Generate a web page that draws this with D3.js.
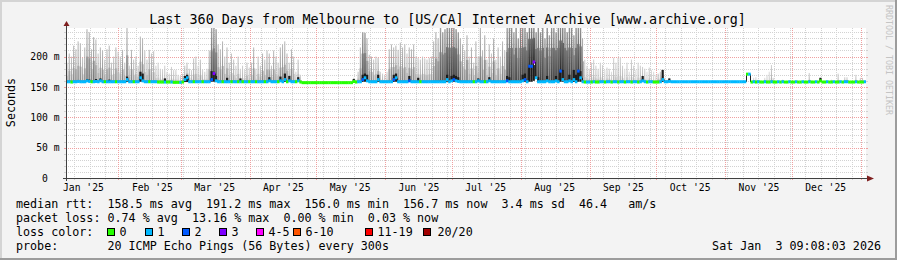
<!DOCTYPE html>
<html>
<head>
<meta charset="utf-8">
<script src="https://d3js.org/d3.v7.min.js"></script>
<style>
  html, body { margin: 0; padding: 0; background: #f3f3f3; }
  svg { display: block; }
  text { font-family: "DejaVu Sans Mono", monospace; white-space: pre; }
</style>
</head>
<body>
<script>
// time window: last 360 days ending Sat Jan 3 09:08 2026
var startTime = Date.UTC(2025, 0, 8, 9, 8);
var endTime = Date.UTC(2026, 0, 3, 9, 8);
var DAY = 86400000;

// daily median rtt (ms)
var medianMs = [
  158.5,158.5,158,158.5,158.5,159,158.5,158.5,158.5,160,159,158.5,158.5,159,158.5,160,158.5,158.5,158.5,158.5,158.5,158.5,158.5,158.5,
  158.5,158.5,158.5,162,158.5,158.5,158.5,158.5,158.5,165,160,158.5,158.5,158.5,158.5,158.5,158.5,158,158,158,158,158,158,158,157.5,157.5,157.5,157.5,
  158,162,165,158.5,158.5,158.5,158.5,158.5,158.5,158.5,158.5,158.5,158.5,162,172,160,158.5,158.5,158.5,158.5,158.5,158.5,158.5,158.5,158.5,158.5,158.5,158.5,158.5,158.5,158.5,
  158.5,158.5,158.5,158.5,158.5,158.5,158.5,158.5,160,158.5,158.5,158.5,158.5,160,158.5,162,158.5,160,158.5,158.5,158.5,160,158,157,157,157,157,157,157,157,
  157,157,157,157,157,157,157,157,157,157,157,157,157,157,157,157,159,158,158.5,158.5,162,165,160,158.5,158.5,158.5,158.5,162,158.5,158.5,158.5,
  158.5,158.5,158.5,162,165,158.5,158.5,158.5,158.5,158.5,160,158.5,158.5,158.5,158.5,158.5,158.5,158.5,158.5,158.5,158.5,158.5,158.5,158.5,158.5,158.5,158.5,162,158.5,160,
  162,160,159,158.5,158.5,158.5,158.5,158.5,158.5,158.5,158.5,160,158.5,158.5,158.5,158.5,160,158.5,158.5,158.5,158.5,158.5,158.5,158.5,160,158.5,158.5,158.5,158.5,158.5,158.5,
  160,162,158.5,184,184,191,165,158.5,158.5,158.5,158.5,160,158.5,158.5,158.5,160,158.5,176,162,158.5,158.5,160,158.5,162,158.5,176,165,158.5,158,158,158,
  158,158.5,158,158,158.5,158.5,158,158.5,158.5,158,158.5,158.5,158,158.5,158.5,158,158.5,158.5,158,158.5,158.5,158,158.5,160,158.5,158,158.5,158.5,158,158,
  158,158.5,162,158.5,158.5,159,158.5,158.5,158.5,158.5,158.5,158.5,158.5,158.5,158.5,158.5,158.5,158.5,158.5,158.5,158.5,158.5,158.5,158.5,158.5,158.5,158.5,158.5,158.5,158.5,158.5,
  158.5,158.5,158.5,158.5,158.5,158.5,158.5,158.5,158.5,171,171,158,158.5,158,158.5,158,158,158.5,158,158,158.5,158,158,158.5,158,158.5,158,158,158.5,158,
  158,158.5,158,158,158.5,158,158,158.5,158,158,158.5,158,160,158,158,158.5,158,158,158.5,158,158,158.5,158,158.5,158.5,158,158,158,158.5,158,158,
  158,158.5
];

// daily top of the smoke (highest ping, ms)
var peakMs = [
  190,205,200,218,212,225,222,198,215,245,240,212,232,228,205,215,210,195,212,218,190,200,215,208,
  200,211,190,247,185,211,195,200,185,233,230,210,195,211,205,209,185,190,180,178,185,175,172,183,178,178,170,168,
  172,185,190,180,178,197,200,185,195,178,175,180,210,247,247,245,220,212,225,200,215,190,205,195,185,200,180,185,178,190,182,
  190,215,180,200,185,205,195,210,205,185,210,200,190,215,220,225,205,190,212,200,175,195,170,157,157,157,157,157,157,157,
  157,157,157,157,157,157,157,157,157,157,157,157,157,157,157,157,165,162,175,215,240,239,230,203,200,195,200,198,175,172,170,
  175,212,220,215,218,211,223,215,220,205,215,212,220,200,198,195,200,197,195,198,200,225,240,230,247,240,245,247,247,247,
  247,245,240,230,220,210,235,200,215,190,225,200,247,210,235,195,220,205,230,195,215,200,225,210,247,247,247,240,247,230,247,
  247,247,240,247,247,247,240,247,240,247,230,247,235,247,247,240,247,247,247,247,240,247,247,235,247,247,247,230,195,185,180,
  190,195,185,180,190,186,178,182,180,175,198,190,198,199,185,180,190,175,195,185,178,190,185,183,180,175,182,178,175,170,
  172,175,178,165,162,165,158,158,158,158,158,158,158,158,158,158,158,158,158,158,158,158,158,158,158,158,158,158,158,158,158,
  158,158,158,158,158,158,158,158,158,172,172,160,165,166,162,160,158,165,170,175,186,165,160,158,158,162,158,158,160,158,
  158,160,158,158,158,158,158,173,160,158,158,158,165,158,160,158,158,162,158,158,172,160,158,166,166,158,158,158,170,158,165,
  165,160
];

// daily smoke darkness (0 none .. 9 black)
var smokeShade = [
  4,5,4,5,5,5,5,4,5,6,6,5,6,5,4,5,5,4,5,5,4,4,5,4,
  4,5,4,6,4,5,4,4,4,5,5,4,4,5,4,4,3,3,3,3,3,3,3,3,3,3,3,3,
  3,4,4,4,3,4,4,3,4,3,3,3,5,7,7,7,5,5,5,4,5,4,4,4,3,4,3,3,3,4,3,
  4,5,3,4,4,5,4,5,5,4,5,4,4,5,5,5,5,4,5,4,3,4,3,0,0,0,0,0,0,0,
  0,0,0,0,0,0,0,0,0,0,0,0,0,0,0,0,3,3,4,5,7,7,6,5,5,4,4,5,3,3,3,
  3,5,5,5,5,5,5,5,5,4,5,5,5,4,4,4,4,4,4,4,4,5,6,6,7,7,7,8,8,8,
  8,8,7,6,5,5,6,4,5,4,5,4,6,5,6,4,5,4,6,4,5,4,5,5,7,8,8,7,8,7,8,
  8,8,8,9,9,9,8,8,8,8,7,8,7,8,8,8,8,9,9,8,8,8,8,7,8,8,8,6,3,3,3,
  3,3,3,3,3,3,2,3,3,2,3,3,3,3,3,2,3,2,3,3,2,3,3,3,3,2,3,2,2,2,
  4,4,5,3,3,3,0,0,0,0,0,0,0,0,0,0,0,0,0,0,0,0,0,0,0,0,0,0,0,0,0,
  0,0,0,0,0,0,0,0,0,0,0,0,2,2,2,2,0,2,2,2,3,2,2,0,0,2,0,0,2,0,
  0,2,0,0,0,0,0,3,2,0,0,0,3,0,2,0,0,2,0,0,3,2,0,3,3,0,0,0,3,0,3,
  3,2
];

// daily lost pings (of 20)
var lossCount = [
  1,1,0,1,1,1,1,1,1,1,1,0,1,1,1,1,1,0,1,1,1,1,0,1,
  1,1,1,1,1,1,0,1,1,1,1,1,1,0,1,1,1,0,0,0,1,0,0,1,0,0,0,1,
  0,1,1,1,1,0,1,1,1,0,1,1,1,2,3,1,1,1,0,1,1,1,0,1,1,0,1,0,1,1,0,
  1,1,0,1,1,1,0,1,1,1,1,1,0,1,1,1,0,1,1,1,0,1,0,0,0,0,0,0,0,0,
  0,0,0,0,0,0,0,0,0,0,0,0,0,0,0,0,0,0,1,1,2,1,1,1,1,1,1,1,1,1,1,
  1,1,1,2,1,1,1,1,1,1,2,1,1,1,1,0,1,1,1,1,1,1,1,1,1,1,1,1,1,1,
  2,1,1,1,1,1,1,1,1,0,1,1,1,1,0,1,1,1,1,1,1,1,1,1,2,1,1,1,1,1,1,
  1,2,1,2,2,3,1,1,1,1,1,1,1,1,1,1,1,2,1,1,1,1,1,1,1,2,1,1,0,1,1,
  0,1,0,0,1,1,0,1,1,0,1,1,0,1,1,0,1,1,0,1,1,0,1,1,1,0,1,1,0,0,
  0,1,1,1,1,1,1,1,1,1,1,1,1,1,1,1,1,1,1,1,1,1,1,1,1,1,1,1,1,1,1,
  1,1,1,1,1,1,1,1,1,0,1,0,1,0,1,0,0,1,0,0,1,0,0,1,0,1,0,0,1,0,
  0,1,0,0,1,0,0,1,0,0,1,0,0,0,0,1,0,0,1,0,0,1,0,1,1,0,0,0,1,0,0,
  0,1
];

// dense smoke cores: [day, from ms, to ms]
var coreBumps = [
  [9,158.5,163],[10,159,162],[13,159,163],[15,160,164],[19,158.5,162],
  [27,158.5,167],[33,158.5,175],[34,158.5,172],[44,158.5,164],
  [53,158,168],[54,158,170],[65,158.5,176],[66,158.5,175],[67,158.5,168],[72,158.5,165],[78,158.5,164],
  [91,158.5,166],[96,158.5,167],[98,158.5,172],[100,158.5,168],[104,158.5,166],
  [129,157,163],[133,158.5,170],[134,158.5,172],[135,158.5,170],[140,158.5,170],
  [147,158.5,170],[148,158.5,172],[154,158.5,168],[158,158.5,165],[171,158.5,170],[173,158.5,168],
  [174,158.5,170],[175,158.5,168],[176,158.5,166],[185,158.5,164],[190,158.5,166],[198,158.5,168],[199,158.5,166],
  [205,158.5,170],[206,158.5,172],[208,158.5,184],[209,158.5,184],[210,160,186],[212,158.5,166],[216,158.5,168],
  [220,158.5,168],[222,158.5,176],[223,158.5,178],[226,158.5,170],[228,158.5,178],[229,158.5,170],[230,158.5,178],[231,158.5,176],
  [259,158.5,168],[268,158.5,178],[271,158.5,164],[339,158,165]
];

var yTicks = [0, 50, 100, 150, 200];
var lossLabels = ['0', '1', '2', '3', '4-5', '6-10', '11-19', '20/20'];
var lossColors = ['#26ff00', '#00b8ff', '#0059ff', '#7e00ff', '#ff00ff', '#ff5500', '#ff0000', '#a10000'];
var rttStats = ['158.5', '191.2', '156.0', '156.7', '3.4', '46.4'];
var lossStats = ['0.74', '13.16', '0.00', '0.03'];

var W = 897, H = 260;

function lossBucket(n) {
  if (n <= 3) return n;
  if (n <= 5) return 4;
  if (n <= 10) return 5;
  if (n <= 19) return 6;
  return 7;
}
function gray(t) {
  var g = Math.round(255 * (1 - t));
  return d3.rgb(g, g, g).toString();
}
function snap(v) { return Math.round(v) + 0.5; }

var svg = d3.select('body').append('svg')
  .attr('width', W)
  .attr('height', H);

/* background + frame */
svg.append('rect').attr('width', W).attr('height', H).attr('fill', '#f3f3f3');
svg.append('path').attr('d', 'M0,0H897V2H2V260H0Z').attr('fill', '#d4d4d4');
svg.append('path').attr('d', 'M897,260H0V258H895V0H897Z').attr('fill', '#9c9c9c');

var xScale = d3.scaleUtc()
  .domain([new Date(startTime), new Date(endTime)])
  .range([66, 866]);

var yScale = d3.scaleLinear()
  .domain([0, 247])
  .range([178, 28]);

var x0 = xScale.range()[0], x1 = xScale.range()[1];
var yTop = yScale.range()[1], yBot = yScale.range()[0];

svg.append('rect')
  .attr('x', x0).attr('y', yTop)
  .attr('width', x1 - x0).attr('height', yBot - yTop)
  .attr('fill', '#ffffff');

/* grid */
var grid = svg.append('g');
var hMinor = d3.range(10, 247, 10).filter(function(v) { return v % 50 !== 0; });
var hMajor = d3.range(50, 247, 50);
var vMinor = d3.utcSunday.range(new Date(startTime), new Date(endTime));
var vMajor = d3.utcMonth.range(new Date(startTime), new Date(endTime));

function hLines(vals, col) {
  grid.selectAll(null).data(vals).enter().append('line')
    .attr('x1', x0).attr('x2', x1)
    .attr('y1', function(d) { return snap(yScale(d)); })
    .attr('y2', function(d) { return snap(yScale(d)); })
    .attr('stroke', col).attr('stroke-dasharray', '1,1');
  grid.selectAll(null).data(vals).enter().append('line')
    .attr('x1', x0 - 2).attr('x2', x0)
    .attr('y1', function(d) { return snap(yScale(d)); })
    .attr('y2', function(d) { return snap(yScale(d)); })
    .attr('stroke', col);
  grid.selectAll(null).data(vals).enter().append('line')
    .attr('x1', x1).attr('x2', x1 + 2)
    .attr('y1', function(d) { return snap(yScale(d)); })
    .attr('y2', function(d) { return snap(yScale(d)); })
    .attr('stroke', col);
}
function vLines(vals, col) {
  grid.selectAll(null).data(vals).enter().append('line')
    .attr('y1', yTop).attr('y2', yBot)
    .attr('x1', function(d) { return snap(xScale(d)); })
    .attr('x2', function(d) { return snap(xScale(d)); })
    .attr('stroke', col).attr('stroke-dasharray', '1,1');
  grid.selectAll(null).data(vals).enter().append('line')
    .attr('y1', yBot).attr('y2', yBot + 2)
    .attr('x1', function(d) { return snap(xScale(d)); })
    .attr('x2', function(d) { return snap(xScale(d)); })
    .attr('stroke', col);
}
hLines(hMinor, '#d2d2d2');
vLines(vMinor, '#d2d2d2');
hLines(hMajor, '#f0a0a0');
vLines(vMajor, '#f0a0a0');

/* data */
var days = medianMs.map(function(m, i) {
  return {
    t0: new Date(startTime + i * DAY),
    t1: new Date(startTime + (i + 1) * DAY),
    med: m,
    peak: peakMs[i],
    shade: smokeShade[i],
    loss: lossCount[i]
  };
});

var defs = svg.append('defs');
defs.append('clipPath').attr('id', 'plotclip')
  .append('rect')
  .attr('x', x0).attr('y', yTop)
  .attr('width', x1 - x0).attr('height', yBot - yTop);

d3.range(1, 10).forEach(function(s) {
  var tb = 0.08 + 0.085 * s;
  var g = defs.append('linearGradient').attr('id', 'sg' + s)
    .attr('x1', 0).attr('y1', 1).attr('x2', 0).attr('y2', 0);
  g.append('stop').attr('offset', 0).attr('stop-color', gray(tb));
  g.append('stop').attr('offset', 1).attr('stop-color', gray(tb * 0.55));
});

var plot = svg.append('g').attr('clip-path', 'url(#plotclip)');
var smoky = days.filter(function(d) { return d.shade > 0 && d.peak > d.med + 0.5; });

function hazeTop(d) { return d.med + (d.peak - d.med) * (0.15 + 0.08 * Math.max(0, d.shade - 2)); }

/* light haze */
plot.selectAll('.haze').data(smoky).enter().append('rect')
  .attr('x', function(d) { return xScale(d.t0); })
  .attr('width', function(d) { return xScale(d.t1) - xScale(d.t0) + 0.2; })
  .attr('y', function(d) { return yScale(hazeTop(d)); })
  .attr('height', function(d) { return yScale(d.med) - yScale(hazeTop(d)); })
  .attr('fill', function(d) { return gray(0.04 + 0.62 * Math.pow(d.shade / 9, 2.2)); });

/* spikes */
plot.selectAll('.spike').data(smoky).enter().append('rect')
  .attr('x', function(d) { return xScale(d.t0) + 0.5; })
  .attr('width', function(d) { return d.shade >= 7 ? 1.4 : 1; })
  .attr('y', function(d) { return yScale(d.peak); })
  .attr('height', function(d) { return yScale(d.med) - yScale(d.peak); })
  .attr('fill', function(d) { return 'url(#sg' + d.shade + ')'; });

/* dark smoke right above the median */
plot.selectAll('.base').data(smoky).enter().append('rect')
  .attr('x', function(d) { return xScale(d.t0); })
  .attr('width', function(d) { return xScale(d.t1) - xScale(d.t0) + 0.2; })
  .attr('y', function(d) { return yScale(Math.min(d.peak, d.med + 2.5)); })
  .attr('height', function(d) { return yScale(d.med) - yScale(Math.min(d.peak, d.med + 2.5)); })
  .attr('fill', function(d) { return gray(0.2 + 0.06 * d.shade); });

/* dense cores */
plot.selectAll('.core').data(coreBumps).enter().append('rect')
  .attr('x', function(d) { return xScale(new Date(startTime + d[0] * DAY)); })
  .attr('width', function(d) { return xScale(new Date(startTime + (d[0] + 1) * DAY)) - xScale(new Date(startTime + d[0] * DAY)); })
  .attr('y', function(d) { return yScale(d[2]); })
  .attr('height', function(d) { return yScale(d[1]) - yScale(d[2]); })
  .attr('fill', '#1c1c1c');

/* median, coloured by loss */
plot.selectAll('.jump').data(days.slice(1)).enter()
  .filter(function(d, i) { return Math.abs(d.med - days[i].med) > 2; })
  .append('line')
  .attr('x1', function(d) { return snap(xScale(d.t0)); })
  .attr('x2', function(d) { return snap(xScale(d.t0)); })
  .attr('y1', function(d) { return yScale(d.med); })
  .attr('y2', function(d) { return yScale(days[days.indexOf(d) - 1].med); })
  .attr('stroke', '#222');

plot.selectAll('.med').data(days).enter().append('rect')
  .attr('x', function(d) { return xScale(d.t0); })
  .attr('width', function(d) { return xScale(d.t1) - xScale(d.t0) + 0.3; })
  .attr('y', function(d) { return yScale(d.med) - 1.5; })
  .attr('height', 3)
  .attr('fill', function(d) { return lossColors[lossBucket(d.loss)]; });

/* axes */
svg.append('line')
  .attr('x1', 63).attr('x2', x1 + 2)
  .attr('y1', snap(yBot)).attr('y2', snap(yBot))
  .attr('stroke', '#404040');
svg.append('line')
  .attr('x1', snap(x0)).attr('x2', snap(x0))
  .attr('y1', yBot + 3).attr('y2', yTop - 3)
  .attr('stroke', '#404040');
svg.append('path')
  .attr('d', 'M' + (x1 + 1) + ',' + (yBot - 2.5) + 'L' + (x1 + 8) + ',' + (yBot + 0.5) + 'L' + (x1 + 1) + ',' + (yBot + 3.5) + 'Z')
  .attr('fill', '#7f1f1f');
svg.append('path')
  .attr('d', 'M' + (x0 - 2.5) + ',' + (yTop - 2) + 'L' + (x0 + 0.5) + ',' + (yTop - 7) + 'L' + (x0 + 3.5) + ',' + (yTop - 2) + 'Z')
  .attr('fill', '#7f1f1f');

var monthMids = d3.utcMonth.range(d3.utcMonth.floor(new Date(startTime)), new Date(endTime))
  .map(function(m) { return d3.utcDay.offset(m, 15); })
  .filter(function(m) { return m.getTime() > startTime && m.getTime() < endTime; });

var xAxis = d3.axisBottom(xScale)
  .tickValues(monthMids)
  .tickFormat(d3.utcFormat("%b '%y"))
  .tickSize(0)
  .tickPadding(6.6);
var gx = svg.append('g').attr('transform', 'translate(0,' + yBot + ')').call(xAxis);
gx.select('.domain').remove();
gx.selectAll('text')
  .attr('font-family', '"DejaVu Sans Mono", monospace')
  .attr('font-size', '9.7px')
  .attr('fill', '#000');

var yAxis = d3.axisLeft(yScale)
  .tickValues(yTicks)
  .tickFormat(function(v) { return v ? v + ' m' : '0  '; })
  .tickSize(0)
  .tickPadding(6.5);
var gy = svg.append('g').attr('transform', 'translate(' + x0 + ',0)').call(yAxis);
gy.select('.domain').remove();
gy.selectAll('text')
  .attr('font-family', '"DejaVu Sans Mono", monospace')
  .attr('font-size', '9.7px')
  .attr('fill', '#000');

/* titles */
svg.append('text')
  .attr('x', 447.5).attr('y', 24)
  .attr('text-anchor', 'middle')
  .attr('font-size', '13.4px')
  .attr('fill', '#000')
  .text('Last 360 Days from Melbourne to [US/CA] Internet Archive [www.archive.org]');

svg.append('text')
  .attr('transform', 'translate(15,102.5) rotate(-90)')
  .attr('text-anchor', 'middle')
  .attr('font-size', '11.7px')
  .attr('fill', '#000')
  .text('Seconds');

svg.append('text')
  .attr('transform', 'translate(885.5,5) rotate(90)')
  .attr('font-size', '8.3px')
  .attr('fill', '#c4c4c4')
  .text('RRDTOOL / TOBI OETIKER');

/* legend */
var leg = svg.append('g')
  .attr('font-size', '11.7px')
  .attr('fill', '#000');

leg.append('text').attr('x', 16).attr('y', 207.5)
  .text('median rtt:  ' + rttStats[0] + ' ms avg  ' + rttStats[1] + ' ms max  ' + rttStats[2] +
        ' ms min  ' + rttStats[3] + ' ms now  ' + rttStats[4] + ' ms sd  ' + rttStats[5] + '   am/s');
leg.append('text').attr('x', 16).attr('y', 221.5)
  .text('packet loss: ' + lossStats[0] + ' % avg  ' + lossStats[1] + ' % max  ' + lossStats[2] +
        ' % min  ' + lossStats[3] + ' % now');
leg.append('text').attr('x', 16).attr('y', 235.5).text('loss color:');

var boxX = [107.5, 145.5, 182.5, 219.5, 256.5, 293.5, 365.5, 423.5];
var items = leg.selectAll('.li').data(lossLabels).enter().append('g');
items.append('rect')
  .attr('x', function(d, i) { return boxX[i]; })
  .attr('y', 228.5)
  .attr('width', 7).attr('height', 7)
  .attr('fill', function(d, i) { return lossColors[i]; })
  .attr('stroke', '#000');
items.append('text')
  .attr('x', function(d, i) { return boxX[i] + (i === 7 ? 14 : 12); })
  .attr('y', 235.5)
  .text(function(d) { return d; });

leg.append('text').attr('x', 16).attr('y', 249.5)
  .text('probe:       20 ICMP Echo Pings (56 Bytes) every 300s');
leg.append('text').attr('x', 881).attr('y', 249.5)
  .attr('text-anchor', 'end')
  .text('Sat Jan  3 09:08:03 2026');
</script>
</body>
</html>
